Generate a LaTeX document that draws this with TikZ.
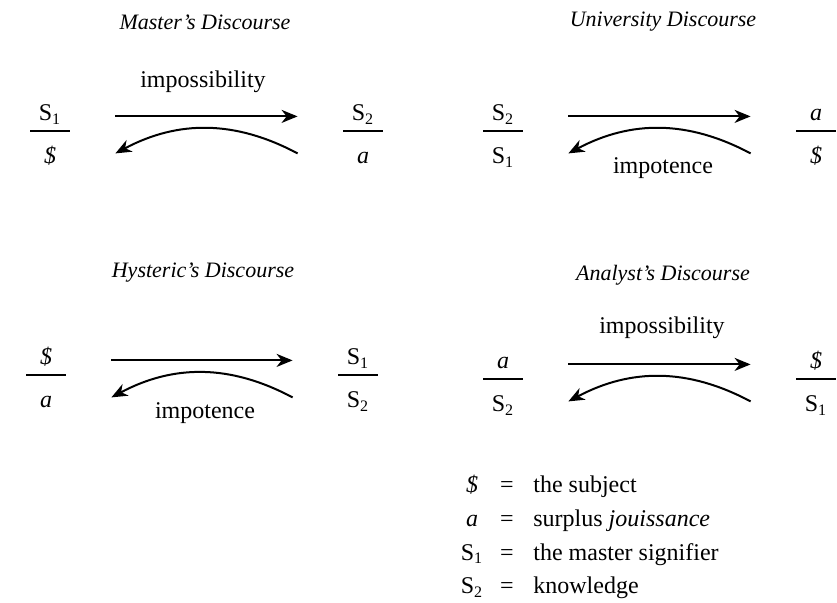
\documentclass[tikz,border=0pt]{standalone}
\usepackage{fontspec}
\setmainfont{Liberation Serif}
\usetikzlibrary{arrows.meta,calc}

\newcommand{\barS}{\textit{\$}}
\newcommand{\sig}[1]{S\textsubscript{#1}}

\begin{document}
\begin{tikzpicture}[
  x=0.5pt, y=-0.5pt,
  term/.style={inner sep=0pt, minimum width=20pt, anchor=base, font=\fontsize{12}{14}\selectfont},
  bar/.style={line width=0.9pt},
  arr/.style={line width=1pt, -{Stealth[length=8pt, width=6.5pt, inset=2.5pt]}},
  straight/.style={arr, shorten <=22.5pt, shorten >=22.5pt},
  back/.style={arr, bend right=28},
  title/.style={font=\fontsize{11}{13}\selectfont\itshape},
  lbl/.style={font=\fontsize{12}{14}\selectfont}
]
\useasboundingbox (0,0) rectangle (837,603);

%================================================
% TOP LEFT:  Master's Discourse
%================================================
\node[title] (tM) at (205,22) {Master's Discourse};

\coordinate (mL) at (50,131);
\coordinate (mR) at (363,131);

\node[term] (mLn) at ($(mL)+(0,-10)$) {\sig{1}};
\node[term] (mLd) at ($(mL)+(0,33)$) {\barS};
\node[term] (mRn) at ($(mR)+(0,-10)$) {\sig{2}};
\node[term] (mRd) at ($(mR)+(0,33)$) {\textit{a}};

\foreach \p in {mL,mR}
  \draw[bar] ($(\p)+(-20,0)$) -- ($(\p)+(20,0)$);

\draw[straight] (mLn.mid east) -- (mRn.mid west);
\draw[arr] ([shift={(-22.5pt,3pt)}]mRd.mid west) to[back] ([shift={(22.5pt,3pt)}]mLd.mid east);

\node[lbl] (mI) at (203,82) {impossibility};

%================================================
% TOP RIGHT:  University Discourse
%================================================
\node[title] (tU) at (663,22) {University Discourse};

\coordinate (uL) at (503,131);
\coordinate (uR) at (816,131);

\node[term] (uLn) at ($(uL)+(0,-10)$) {\sig{2}};
\node[term] (uLd) at ($(uL)+(0,33)$) {\sig{1}};
\node[term] (uRn) at ($(uR)+(0,-10)$) {\textit{a}};
\node[term] (uRd) at ($(uR)+(0,33)$) {\barS};

\foreach \p in {uL,uR}
  \draw[bar] ($(\p)+(-20,0)$) -- ($(\p)+(20,0)$);

\draw[straight] (uLn.mid east) -- (uRn.mid west);
\draw[arr] ([shift={(-22.5pt,3pt)}]uRd.mid west) to[back] ([shift={(22.5pt,3pt)}]uLd.mid east);

\node[lbl] (uI) at (663,168) {impotence};

%================================================
% BOTTOM LEFT:  Hysteric's Discourse
%================================================
\node[title] (tH) at (203,273) {Hysteric's Discourse};

\coordinate (hL) at (46,375);
\coordinate (hR) at (358,375);

\node[term] (hLn) at ($(hL)+(0,-10)$) {\barS};
\node[term] (hLd) at ($(hL)+(0,33)$) {\textit{a}};
\node[term] (hRn) at ($(hR)+(0,-10)$) {\sig{1}};
\node[term] (hRd) at ($(hR)+(0,33)$) {\sig{2}};

\foreach \p in {hL,hR}
  \draw[bar] ($(\p)+(-20,0)$) -- ($(\p)+(20,0)$);

\draw[straight] (hLn.mid east) -- (hRn.mid west);
\draw[arr] ([shift={(-22.5pt,3pt)}]hRd.mid west) to[back] ([shift={(22.5pt,3pt)}]hLd.mid east);

\node[lbl] (hI) at (205,413) {impotence};

%================================================
% BOTTOM RIGHT:  Analyst's Discourse
%================================================
\node[title] (tA) at (663,275) {Analyst's Discourse};

\coordinate (aL) at (503,379);
\coordinate (aR) at (816,379);

\node[term] (aLn) at ($(aL)+(0,-10)$) {\textit{a}};
\node[term] (aLd) at ($(aL)+(0,33)$) {\sig{2}};
\node[term] (aRn) at ($(aR)+(0,-10)$) {\barS};
\node[term] (aRd) at ($(aR)+(0,33)$) {\sig{1}};

\foreach \p in {aL,aR}
  \draw[bar] ($(\p)+(-20,0)$) -- ($(\p)+(20,0)$);

\draw[straight] (aLn.mid east) -- (aRn.mid west);
\draw[arr] ([shift={(-22.5pt,3pt)}]aRd.mid west) to[back] ([shift={(22.5pt,3pt)}]aLd.mid east);

\node[lbl] (aI) at (662,328) {impossibility};

%================================================
% LEGEND
%================================================
\foreach \s/\t [count=\k] in {{\barS}/{the subject},
                              {\textit{a}}/{surplus \textit{jouissance}},
                              {\sig{1}}/{the master signifier},
                              {\sig{2}}/{knowledge}}{
  \node[term] (sym\k) at (472,{493+33.6*(\k-1)}) {\s};
  \node[term] (eq\k) at (507,{493+33.6*(\k-1)}) {=};
  \node[term, anchor=base west, minimum width=0pt] (txt\k) at (533,{493+33.6*(\k-1)}) {\t};
}

\end{tikzpicture}
\end{document}
